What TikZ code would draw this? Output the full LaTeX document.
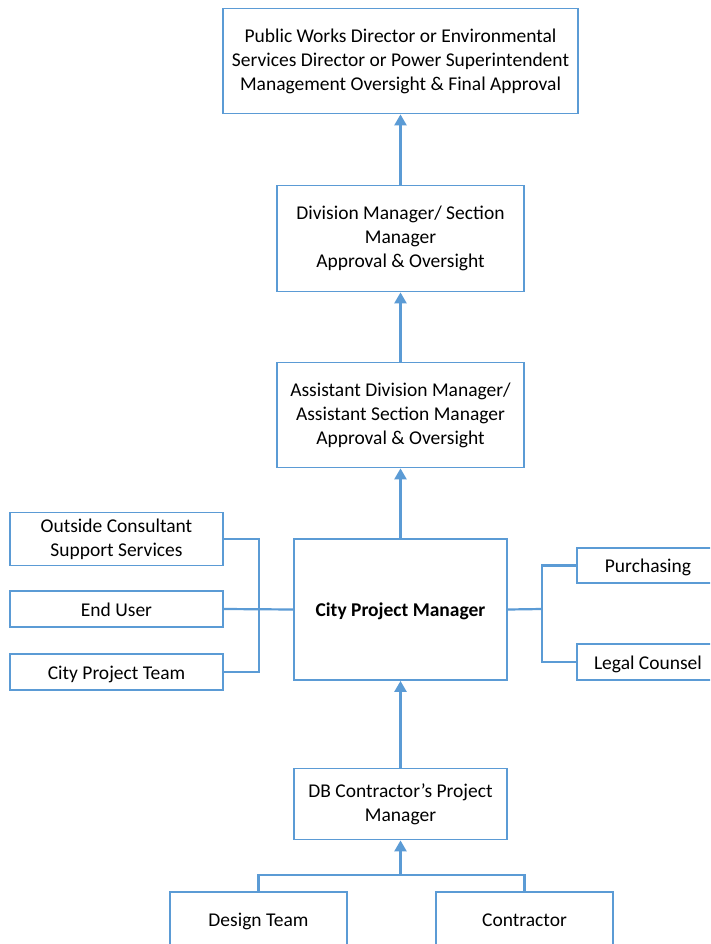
\documentclass[tikz,border=0pt]{standalone}
\usepackage{fontspec}
\setmainfont{Carlito}
\usetikzlibrary{arrows.meta}
\definecolor{lblue}{HTML}{5B9BD5}
\begin{document}
\begin{tikzpicture}[x=1pt,y=-1pt,
  box/.style={draw=lblue,line width=1.8pt,fill=white,inner sep=0pt,align=center,
    font=\fontsize{19.5}{24}\selectfont},
  one/.style={text height=16pt,text depth=2pt},
  link/.style={draw=lblue,line width=2.2pt},
  up/.style={draw=lblue,line width=2.4pt,-{Triangle[width=12pt,length=11pt]}}]
\useasboundingbox (0,0) rectangle (710,944);
\clip (0,0) rectangle (710,944);
\fill[white] (0,0) rectangle (710,944);
\node[box,minimum width=355pt,minimum height=105pt] (top) at (400.5,61)
  {Public Works Director or Environmental\\Services Director or Power Superintendent\\Management Oversight \& Final Approval};
\node[box,minimum width=247pt,minimum height=106pt] (div) at (400.5,238.5)
  {Division Manager/ Section\\Manager\\ Approval \& Oversight};
\node[box,minimum width=247pt,minimum height=105pt] (asst) at (400.5,415)
  {Assistant Division Manager/\\Assistant Section Manager\\Approval \& Oversight};
\node[box,one,minimum width=213pt,minimum height=141pt,font=\fontsize{19.5}{24}\selectfont\bfseries] (cpm) at (400.5,609.5)
  {City Project Manager};
\node[box,minimum width=213pt,minimum height=53pt] (cons) at (116.5,539)
  {Outside Consultant\\Support Services};
\node[box,one,minimum width=213pt,minimum height=36pt] (user) at (116.5,609)
  {End User};
\node[box,one,minimum width=213pt,minimum height=36pt] (team) at (116.5,672)
  {City Project Team};
\node[box,one,minimum width=142pt,minimum height=35pt] (purch) at (648,565.5)
  {Purchasing};
\node[box,one,minimum width=142pt,minimum height=36pt] (legal) at (648,662)
  {Legal Counsel};
\node[box,minimum width=213pt,minimum height=71pt] (db) at (400.5,804)
  {DB Contractor’s Project\\Manager};
\node[box,one,minimum width=177pt,minimum height=54pt] (design) at (258.5,919)
  {Design Team};
\node[box,one,minimum width=177pt,minimum height=54pt] (contr) at (524.5,919)
  {Contractor};
\coordinate (lj) at (259,609);
\coordinate (rj) at (542,609);
\coordinate (bj) at (400.5,875);
\draw[up] (div.north) -- (top.south);
\draw[up] (asst.north) -- (div.south);
\draw[up] (cpm.north) -- (asst.south);
\draw[up] (db.north) -- (cpm.south);
\draw[link] (cons.east) -| (lj);
\draw[link] (team.east) -| (lj);
\draw[link] (user.east) -- (cpm.west);
\draw[link] (cpm.east) -- (rj);
\draw[link] (purch.west) -| (rj);
\draw[link] (legal.west) -| (rj);
\draw[link] (design.north) |- (bj);
\draw[link] (contr.north) |- (bj);
\draw[up] (bj) -- (db.south);
\end{tikzpicture}
\end{document}
